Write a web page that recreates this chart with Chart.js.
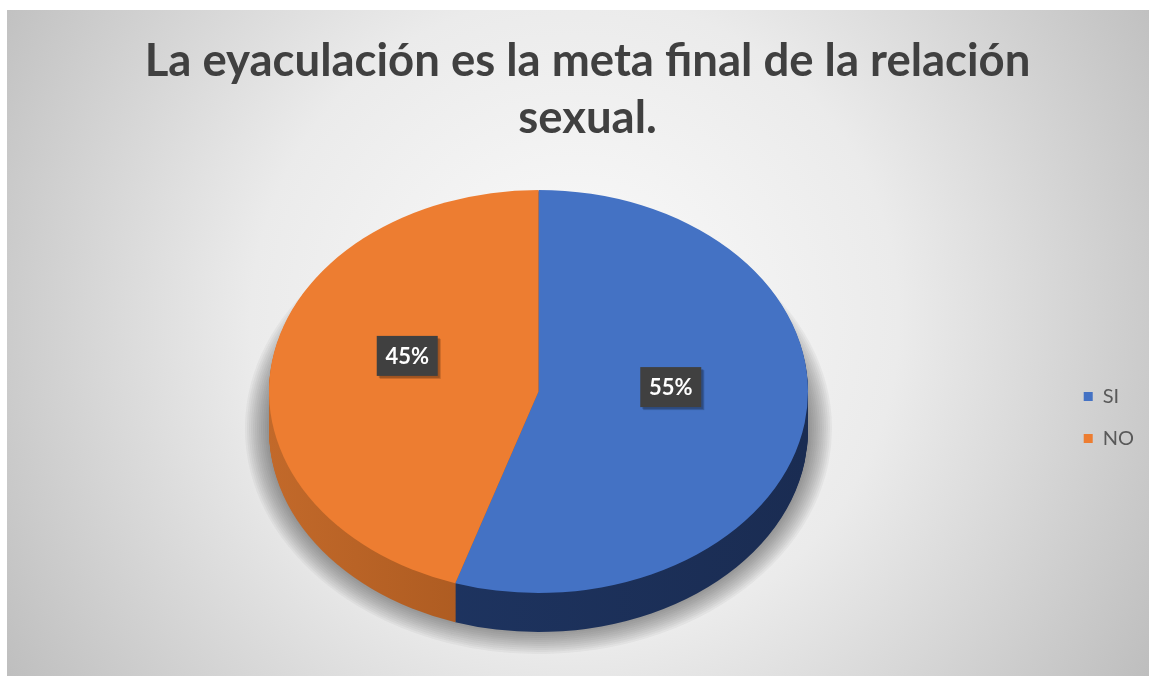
<!DOCTYPE html>
<html>
<head>
<meta charset="utf-8">
<script src="https://cdn.jsdelivr.net/npm/chart.js@4/dist/chart.umd.min.js"></script>
<style>
  html, body { margin: 0; padding: 0; background: #fff; }
  #wrap { width: 1149px; height: 676px; }
</style>
</head>
<body>
<div id="wrap"><canvas id="myChart" width="1149" height="676"></canvas></div>
<script>
let titleLines = ["La eyaculación es la meta final de la relación", "sexual."];
let categories = ["SI", "NO"];
let values = [55, 45];
let topColors = ["#4472C4", "#ED7D31"];
let sideColors = [["#1f3766", "#1a2c52"], ["#c2692a", "#8a4412"]];

// where the tilted pie sits on the page
let pieCx = 538.5, pieCy = 391.5, pieRx = 269.5, pieRy = 201.5, pieDepth = 39;

function userTransform(ctx, arc, dy, grow) {
    grow = grow || 0;
    ctx.translate(pieCx, pieCy + dy);
    ctx.scale((pieRx + grow) / arc.outerRadius, (pieRy + grow) / arc.outerRadius);
    ctx.translate(-arc.x, -arc.y);
}

function withColor(arc, color) {
    let copy = Object.assign(Object.create(Object.getPrototypeOf(arc)), arc);
    copy.options = Object.assign({}, arc.options, {backgroundColor: color});
    return copy;
}

const background = {
    id: "background",
    beforeDraw(chart) {
        const ctx = chart.ctx;
        ctx.save();
        ctx.fillStyle = "#fff";
        ctx.fillRect(0, 0, chart.width, chart.height);
        let g = ctx.createRadialGradient(575, 320, 0, 575, 320, 720);
        g.addColorStop(0, "#fbfbfb");
        g.addColorStop(0.45, "#ebebeb");
        g.addColorStop(1, "#b8b8b8");
        ctx.fillStyle = g;
        ctx.fillRect(7, 10, chart.width - 7, chart.height - 10);
        ctx.restore();
    }
};

const pie3d = {
    id: "pie3d",
    beforeDatasetsDraw(chart) {
        const ctx = chart.ctx;
        const arcs = chart.getDatasetMeta(0).data;
        const a0 = arcs[0];
        const ux = x => a0.x + (x - pieCx) * a0.outerRadius / pieRx;

        // soft shadow under the pie, built from faint growing layers
        for (let k = 12; k >= 0; k--) {
            ctx.save();
            userTransform(ctx, a0, pieDepth - 2, k * 2);
            arcs.forEach(arc => withColor(arc, "rgba(60,60,60,0.05)").draw(ctx));
            ctx.restore();
        }

        for (let d = pieDepth; d >= 1; d--) {
            ctx.save();
            userTransform(ctx, a0, d);
            arcs.forEach((arc, i) => {
                let g = ctx.createLinearGradient(ux(pieCx - pieRx), 0, ux(pieCx + pieRx), 0);
                g.addColorStop(0, sideColors[i][0]);
                g.addColorStop(1, sideColors[i][1]);
                withColor(arc, g).draw(ctx);
            });
            ctx.restore();
        }
        ctx.save();
        userTransform(ctx, a0, 0);
    },
    afterDatasetsDraw(chart) {
        const ctx = chart.ctx;
        ctx.restore();
        const arcs = chart.getDatasetMeta(0).data;
        const total = values.reduce((a, b) => a + b, 0);
        arcs.forEach((arc, i) => {
            let mid = (arc.startAngle + arc.endAngle) / 2;
            let x = pieCx + Math.cos(mid) * pieRx * 0.495;
            let y = pieCy + Math.sin(mid) * pieRy * 0.495 - 20;
            let text = Math.round(values[i] / total * 100) + "%";
            // box shadow
            ctx.save();
            ctx.fillStyle = "rgba(0,0,0,0.18)";
            ctx.fillRect(x - 27, y - 17, 61, 40);
            ctx.fillRect(x - 28, y - 18, 61, 40);
            ctx.fillStyle = "#404040";
            ctx.fillRect(x - 30, y - 20, 61, 40);
            ctx.fillStyle = "#fff";
            ctx.font = "bold 22px Lato";
            ctx.textAlign = "center";
            ctx.textBaseline = "middle";
            ctx.fillText(text, x + 0.5, y + 1);
            ctx.restore();
        });
    }
};

new Chart("myChart", {
    type: "pie",
    data: {
        labels: categories,
        datasets: [{
            data: values,
            backgroundColor: topColors,
            borderWidth: 0
        }]
    },
    options: {
        responsive: false,
        animation: false,
        layout: {padding: {top: 10, right: 5, bottom: 0, left: 31}},
        plugins: {
            title: {
                display: true,
                text: titleLines,
                color: "#404040",
                font: {family: "Lato", size: 45.5, weight: "bold", lineHeight: 1.253},
                padding: {top: 23, bottom: 12}
            },
            legend: {
                position: "right",
                fullSize: false,
                labels: {
                    boxWidth: 9,
                    boxHeight: 9,
                    padding: 22,
                    color: "#595959",
                    font: {family: "Lato", size: 20}
                }
            },
            tooltip: {enabled: false}
        }
    },
    plugins: [background, pie3d]
});
</script>
</body>
</html>
